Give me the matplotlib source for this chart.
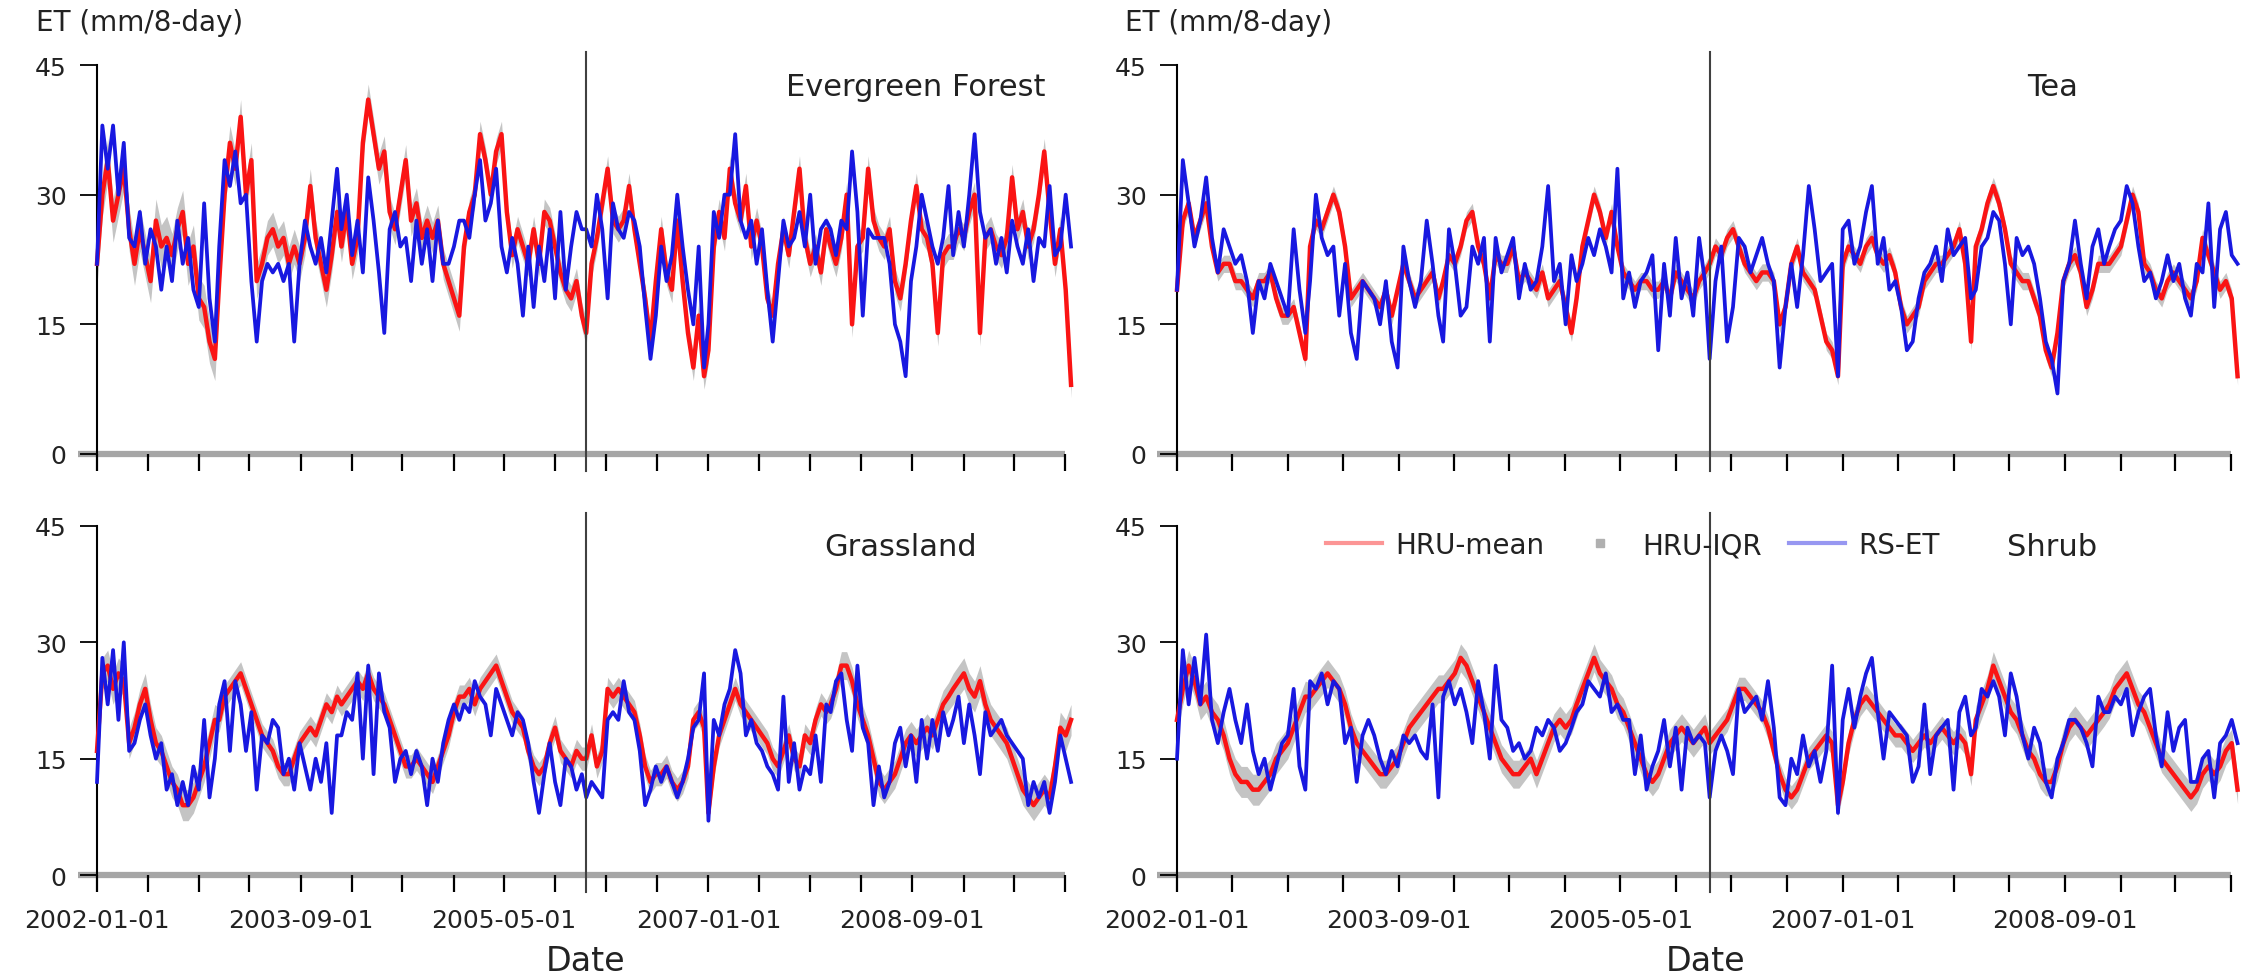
import numpy as np
import pandas as pd
import matplotlib
matplotlib.use("Agg")
import matplotlib.pyplot as plt
import matplotlib.dates as mdates
from matplotlib.lines import Line2D

plt.rcParams['font.family'] = ['DejaVu Sans']

# 16-day steps, 23 per year, 2002-2009
years = list(range(2002, 2010))
steps = 23

# Evergreen Forest
ef_hru = [22, 30, 34, 27, 30, 33, 26, 22, 26, 23, 20, 27, 24, 25, 23, 26, 28, 22, 24, 18, 17, 13, 11,
          20, 30, 36, 33, 39, 30, 34, 20, 22, 25, 26, 24, 25, 22, 24, 22, 25, 31, 25, 22, 19, 23, 28,
          24, 28, 22, 25, 36, 41, 37, 33, 35, 28, 26, 30, 34, 27, 29, 25, 27, 25, 27, 22, 20, 18, 16,
          24, 28, 30, 37, 34, 30, 35, 37, 28, 23, 26, 24, 22, 26, 22, 28, 27, 24, 21, 19, 18, 20, 16,
          14, 22, 25, 29, 33, 27, 26, 27, 31, 26, 22, 18, 13, 20, 26, 21, 19, 27, 20, 14, 10, 16, 9,
          12, 24, 28, 25, 33, 29, 27, 31, 24, 27, 24, 18, 16, 22, 26, 23, 28, 33, 25, 22, 24, 21, 26,
          24, 22, 25, 30, 15, 24, 25, 33, 27, 25, 24, 26, 20, 18, 22, 27, 31, 26, 25, 22, 14, 23, 24,
          24, 26, 25, 28, 30, 14, 25, 26, 24, 23, 25, 32, 26, 28, 24, 26, 30, 35, 28, 22, 26, 19, 8]
ef_rs = [22, 38, 33, 38, 30, 36, 25, 24, 28, 22, 26, 24, 19, 24, 20, 27, 22, 25, 19, 17, 29, 18, 13,
         24, 34, 31, 35, 29, 30, 20, 13, 20, 22, 21, 22, 20, 22, 13, 22, 27, 24, 22, 25, 21, 27, 33,
         26, 30, 23, 27, 21, 32, 27, 21, 14, 26, 28, 24, 25, 20, 27, 22, 26, 20, 27, 22, 22, 24, 27,
         27, 25, 30, 34, 27, 29, 33, 24, 21, 25, 22, 16, 24, 17, 24, 20, 26, 18, 28, 19, 24, 28, 26,
         26, 24, 30, 26, 18, 29, 26, 25, 28, 27, 24, 17, 11, 16, 24, 20, 23, 30, 24, 19, 15, 24, 10,
         15, 28, 25, 30, 30, 37, 27, 25, 27, 22, 26, 19, 13, 20, 27, 24, 25, 28, 24, 30, 22, 26, 27,
         26, 23, 27, 26, 35, 28, 16, 26, 25, 25, 25, 22, 15, 13, 9, 20, 24, 30, 27, 24, 22, 25, 31,
         23, 28, 24, 30, 37, 28, 25, 26, 22, 25, 21, 27, 24, 22, 26, 20, 25, 24, 31, 23, 24, 30, 24]
ef_iqr = [2.5, 2.0, 1.8, 1.5, 1.5, 1.5, 1.5, 1.5]

# Tea
tea_hru = [19, 27, 29, 25, 27, 29, 24, 21, 22, 22, 20, 20, 19, 18, 20, 20, 21, 18, 16, 16, 17, 14, 11,
           24, 27, 26, 28, 30, 28, 24, 18, 19, 20, 19, 18, 17, 19, 16, 19, 22, 20, 18, 19, 20, 21, 18,
           20, 23, 22, 24, 27, 28, 24, 22, 18, 23, 22, 22, 24, 20, 21, 20, 19, 21, 18, 19, 20, 17, 14,
           18, 24, 27, 30, 28, 25, 28, 24, 21, 20, 19, 20, 20, 19, 19, 20, 18, 21, 20, 19, 18, 20, 21,
           22, 24, 23, 25, 26, 24, 22, 21, 20, 21, 21, 20, 15, 17, 22, 24, 21, 20, 19, 16, 13, 12, 9,
           22, 24, 23, 22, 24, 25, 23, 22, 23, 21, 17, 15, 16, 17, 20, 21, 22, 22, 23, 24, 26, 22, 13,
           24, 26, 29, 31, 29, 26, 22, 21, 20, 20, 18, 16, 12, 10, 14, 20, 22, 23, 21, 17, 19, 22, 22,
           22, 23, 24, 27, 30, 28, 22, 21, 19, 18, 20, 21, 20, 19, 18, 20, 25, 23, 21, 19, 20, 18, 9]
tea_rs = [19, 34, 29, 24, 27, 32, 25, 21, 26, 24, 22, 23, 20, 14, 20, 18, 22, 20, 18, 16, 26, 19, 14,
          20, 30, 25, 23, 24, 16, 22, 14, 11, 20, 19, 18, 15, 20, 13, 10, 24, 20, 17, 20, 27, 22, 16,
          13, 26, 22, 16, 17, 24, 22, 25, 13, 25, 21, 23, 25, 18, 22, 19, 20, 24, 31, 20, 22, 15, 23,
          20, 22, 25, 23, 26, 24, 21, 33, 18, 21, 17, 20, 21, 23, 12, 22, 16, 25, 18, 21, 16, 25, 20,
          11, 20, 24, 13, 17, 25, 24, 21, 23, 25, 22, 20, 10, 17, 22, 17, 23, 31, 26, 20, 21, 22, 9,
          26, 27, 22, 24, 28, 31, 22, 25, 19, 20, 17, 12, 13, 18, 21, 22, 24, 20, 26, 23, 24, 25, 18,
          19, 24, 25, 28, 27, 22, 15, 25, 23, 24, 22, 18, 13, 11, 7, 20, 22, 27, 22, 18, 24, 26, 22,
          24, 26, 27, 31, 29, 24, 20, 21, 18, 20, 23, 20, 22, 18, 16, 22, 21, 29, 17, 26, 28, 23, 22]
tea_iqr = [1.0, 1.0, 1.0, 1.0, 1.0, 1.0, 1.0, 1.0]

# Grassland
gl_hru = [16, 26, 27, 24, 26, 25, 17, 19, 22, 24, 20, 17, 16, 14, 12, 11, 9, 9, 10, 12, 14, 17, 20,
          20, 23, 24, 25, 26, 24, 22, 20, 18, 17, 16, 14, 13, 13, 15, 17, 18, 19, 18, 20, 22, 21, 23,
          22, 23, 24, 25, 24, 26, 24, 23, 22, 20, 18, 16, 14, 14, 15, 14, 13, 12, 14, 16, 18, 21, 23,
          23, 24, 22, 24, 25, 26, 27, 25, 23, 21, 20, 19, 16, 14, 13, 14, 17, 19, 16, 15, 14, 16, 15,
          15, 18, 14, 16, 24, 23, 24, 23, 22, 21, 18, 14, 12, 13, 13, 14, 12, 11, 12, 14, 20, 21, 19,
          8, 14, 18, 20, 22, 24, 22, 21, 20, 19, 18, 17, 15, 14, 16, 18, 15, 14, 18, 17, 20, 22, 21,
          22, 24, 27, 27, 25, 22, 20, 18, 15, 12, 11, 12, 13, 15, 17, 18, 17, 18, 19, 18, 20, 22, 23,
          24, 25, 26, 24, 23, 25, 22, 20, 19, 18, 17, 15, 13, 11, 10, 9, 10, 11, 10, 14, 19, 18, 20]
gl_rs = [12, 28, 22, 29, 20, 30, 16, 17, 20, 22, 18, 15, 17, 11, 13, 9, 12, 9, 14, 11, 20, 10, 15,
         22, 25, 16, 25, 22, 16, 21, 11, 18, 17, 20, 19, 13, 15, 11, 17, 14, 11, 15, 12, 17, 8, 18,
         18, 21, 20, 26, 15, 27, 13, 26, 21, 19, 12, 15, 16, 13, 16, 14, 9, 15, 12, 17, 20, 22, 20,
         22, 21, 25, 23, 22, 18, 24, 22, 20, 18, 21, 20, 17, 12, 8, 13, 17, 12, 9, 15, 14, 11, 13,
         10, 12, 11, 10, 20, 21, 20, 25, 21, 20, 16, 9, 11, 14, 12, 14, 12, 10, 12, 15, 19, 20, 26,
         7, 20, 18, 22, 24, 29, 26, 18, 20, 17, 16, 14, 13, 11, 23, 12, 17, 11, 14, 13, 18, 12, 22,
         21, 25, 26, 20, 16, 27, 19, 17, 9, 14, 10, 12, 17, 19, 14, 18, 12, 20, 15, 20, 16, 21, 18,
         20, 23, 17, 22, 18, 13, 21, 18, 19, 20, 18, 17, 16, 15, 9, 12, 10, 12, 8, 12, 18, 15, 12]
gl_iqr = [2.0, 1.5, 1.5, 1.5, 1.5, 1.5, 1.8, 2.0]

# Shrub
sh_hru = [20, 24, 27, 25, 22, 23, 21, 20, 18, 15, 13, 12, 12, 11, 11, 12, 13, 15, 16, 17, 19, 21, 23,
          23, 24, 25, 26, 25, 24, 22, 19, 17, 16, 15, 14, 13, 13, 14, 15, 17, 19, 20, 21, 22, 23, 24,
          24, 25, 26, 28, 27, 25, 23, 21, 19, 17, 15, 14, 13, 13, 14, 15, 13, 15, 17, 19, 20, 19, 20,
          22, 24, 26, 28, 26, 25, 24, 22, 21, 19, 17, 15, 13, 12, 13, 15, 17, 18, 19, 18, 17, 18, 19,
          17, 18, 19, 20, 22, 24, 24, 23, 22, 21, 19, 16, 13, 11, 10, 11, 13, 15, 16, 17, 18, 17, 9,
          12, 17, 20, 22, 23, 22, 21, 20, 19, 18, 18, 17, 16, 17, 18, 17, 18, 19, 18, 17, 18, 17, 13,
          20, 22, 24, 27, 25, 23, 21, 20, 18, 16, 15, 13, 12, 12, 14, 17, 19, 20, 19, 18, 19, 20, 21,
          22, 24, 25, 26, 24, 22, 21, 19, 17, 15, 14, 13, 12, 11, 10, 11, 13, 14, 13, 14, 16, 17, 11]
sh_rs = [15, 29, 22, 28, 22, 31, 20, 17, 21, 24, 20, 17, 22, 16, 13, 15, 11, 14, 17, 18, 24, 14, 11,
         25, 24, 26, 22, 25, 24, 17, 19, 12, 18, 20, 18, 15, 13, 16, 14, 18, 17, 18, 16, 15, 22, 10,
         23, 25, 22, 24, 21, 17, 25, 21, 15, 27, 20, 19, 16, 17, 15, 16, 19, 18, 20, 19, 16, 17, 19,
         21, 22, 25, 24, 23, 26, 21, 22, 20, 20, 13, 18, 11, 14, 16, 20, 14, 19, 11, 19, 17, 18, 17,
         10, 16, 18, 16, 13, 24, 21, 22, 23, 20, 25, 19, 10, 9, 15, 13, 18, 14, 16, 12, 16, 27, 8,
         20, 24, 19, 23, 26, 28, 21, 15, 21, 20, 19, 18, 12, 14, 22, 13, 18, 19, 20, 11, 21, 23, 18,
         19, 24, 23, 25, 23, 18, 26, 23, 18, 15, 19, 17, 12, 10, 15, 17, 20, 20, 19, 17, 14, 23, 21,
         21, 23, 22, 24, 18, 21, 23, 24, 18, 14, 21, 16, 19, 20, 12, 12, 15, 16, 10, 17, 18, 20, 17]
sh_iqr = [2.0, 1.8, 1.8, 1.8, 1.5, 1.5, 1.8, 1.8]

titles = ["Evergreen Forest", "Tea", "Grassland", "Shrub"]
yticks = [0, 15, 30, 45]
tick_labels = ["2002-01-01", "2003-09-01", "2005-05-01", "2007-01-01", "2008-09-01"]

dates = [pd.Timestamp(f"{y}-01-01") + pd.Timedelta(days=16 * k) for y in years for k in range(steps)]
x = mdates.date2num(dates)

W, H = 2260, 978
fig = plt.figure(figsize=(W / 100, H / 100), dpi=100)

# axes boxes in pixels: left, top(45), bottom(0), width
boxes = [(97, 66, 455, 978.4), (1177, 66, 455, 1065.3),
         (97, 527, 876, 978.4), (1177, 527, 876, 1065.3)]
series = [(ef_hru, ef_rs, ef_iqr), (tea_hru, tea_rs, tea_iqr),
          (gl_hru, gl_rs, gl_iqr), (sh_hru, sh_rs, sh_iqr)]

x0 = mdates.date2num(pd.Timestamp("2002-01-01"))
x1 = mdates.date2num(pd.Timestamp("2010-01-01"))
x_end = mdates.date2num(pd.Timestamp("2009-12-01"))
x_split = mdates.date2num(pd.Timestamp("2006-01-01"))
xt = mdates.date2num(pd.date_range("2002-01-01", "2009-12-01", freq="5MS"))

red = "#fa1414"
blue = "#1818e0"
band = "#c4c4c4"
txt = "#222222"

axes = []
for i, (left, top, bottom, width) in enumerate(boxes):
    ax = fig.add_axes([left / W, 1 - bottom / H, width / W, (bottom - top) / H])
    hru, rs, iqr = series[i]
    hru = np.array(hru, dtype=float)
    spread = np.repeat(iqr, steps)
    ax.fill_between(x, hru - spread, hru + spread, color=band, lw=0, zorder=2, clip_on=False)
    ax.plot(x, hru, color=red, lw=3.2, zorder=3, clip_on=False)
    ax.plot(x, rs, color=blue, lw=2.7, zorder=4, clip_on=False)

    ax.set_xlim(x0, x1)
    ax.set_ylim(0, 45)
    for s in ["top", "right", "bottom"]:
        ax.spines[s].set_visible(False)
    ax.spines["left"].set_color("black")
    ax.spines["left"].set_linewidth(1.5)

    # thick grey base line
    frac_end = (x_end - x0) / (x1 - x0)
    ax.plot([-0.019, frac_end], [0, 0], color="#a6a6a6", lw=4.5,
            transform=ax.get_yaxis_transform(), clip_on=False, zorder=1,
            solid_capstyle="butt")

    # split line at 2006-01-01
    span = 45.0 / ((bottom - top))
    ax.plot([x_split, x_split], [-17 * span, 45 + 13 * span], color="#404040",
            lw=1.5, clip_on=False, zorder=5)

    ax.set_yticks(yticks)
    ax.set_xticks(xt)
    if i >= 2:
        ax.set_xticklabels([tick_labels[j // 4] if j % 4 == 0 else "" for j in range(len(xt))])
    else:
        ax.set_xticklabels([])
    ax.tick_params(axis="y", direction="out", length=12, width=1.3, pad=10,
                   labelsize=18, labelcolor=txt)
    ax.tick_params(axis="x", direction="out", length=12, width=1.6, pad=12,
                   labelsize=18, labelcolor=txt)
    ax.patch.set_visible(False)
    axes.append(ax)

# panel names
fig.text(1045 / W, 1 - 87 / H, titles[0], ha="right", va="center", fontsize=22, color=txt)
fig.text(2053 / W, 1 - 87 / H, titles[1], ha="center", va="center", fontsize=22, color=txt)
fig.text(901 / W, 1 - 548 / H, titles[2], ha="center", va="center", fontsize=22, color=txt)
fig.text(2052 / W, 1 - 548 / H, titles[3], ha="center", va="center", fontsize=22, color=txt)

# axis titles
fig.text(36 / W, 1 - 23 / H, "ET (mm/8-day)", ha="left", va="center", fontsize=20, color=txt)
fig.text(1125 / W, 1 - 23 / H, "ET (mm/8-day)", ha="left", va="center", fontsize=20, color=txt)
fig.text(586 / W, 1 - 962 / H, "Date", ha="center", va="center", fontsize=24, color=txt)
fig.text(1706 / W, 1 - 962 / H, "Date", ha="center", va="center", fontsize=24, color=txt)

handles = [Line2D([], [], color=red, lw=3, alpha=0.45),
           Line2D([], [], color="#b0b0b0", marker="s", markersize=6, linestyle="None"),
           Line2D([], [], color=blue, lw=3, alpha=0.45)]
fig.legend(handles, ["HRU-mean", "HRU-IQR", "RS-ET"], loc="center left",
           bbox_to_anchor=(1326 / W, 1 - 546 / H), ncol=3, frameon=False,
           fontsize=20, handlelength=2.0, handletextpad=0.5, columnspacing=1.0,
           borderpad=0, borderaxespad=0, labelcolor=txt)

fig.savefig("out.png", dpi=100, facecolor="white")
